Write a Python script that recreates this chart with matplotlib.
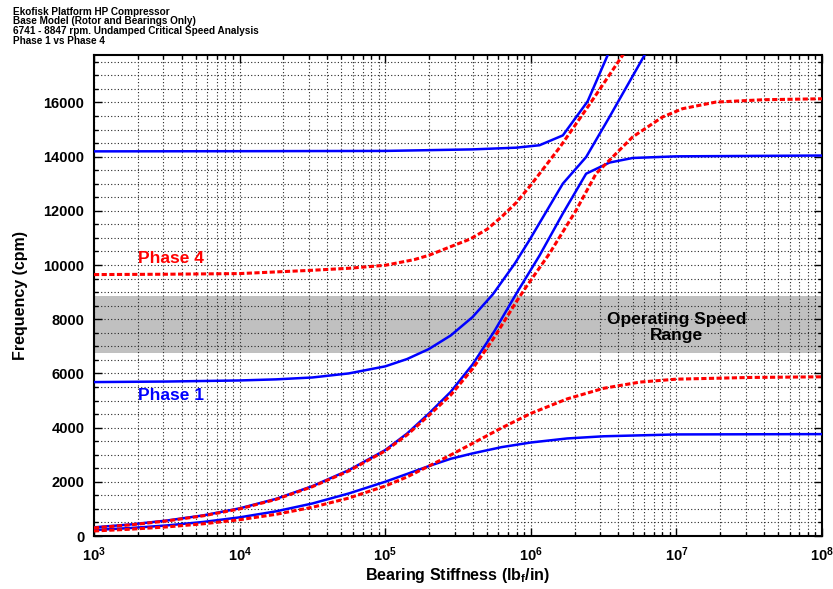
import numpy as np
import matplotlib
matplotlib.use('Agg')
import matplotlib.pyplot as plt
from matplotlib import ticker as mticker

plt.rcParams['font.family'] = ['Liberation Sans', 'DejaVu Sans']
plt.rcParams['font.weight'] = 'bold'
plt.rcParams['mathtext.fontset'] = 'custom'
plt.rcParams['mathtext.rm'] = 'Liberation Sans:bold'
plt.rcParams['mathtext.bf'] = 'Liberation Sans:bold'
plt.rcParams['mathtext.it'] = 'Liberation Sans:bold'
plt.rcParams['mathtext.default'] = 'rm'

# title block
title_lines = ['Ekofisk Platform HP Compressor',
               'Base Model (Rotor and Bearings Only)',
               '6741 - 8847 rpm. Undamped Critical Speed Analysis',
               'Phase 1 vs Phase 4']

# operating speed range (rpm)
op_low = 6741
op_high = 8847

# Phase 1 modes (blue solid): log10 of bearing stiffness (lbf/in) and frequency (cpm)
p1_m1_logk = [3.0, 3.25, 3.5, 3.75, 4.0, 4.25, 4.5, 4.75, 5.0, 5.15, 5.3, 5.45, 5.6, 5.8, 6.0, 6.25, 6.5, 7.0, 8.0]
p1_m1_f = [221, 294, 390, 518, 688, 910, 1200, 1570, 2002, 2290, 2581, 2850, 3048, 3280, 3450, 3600, 3680, 3748, 3760]

p1_m2_logk = [3.0, 3.25, 3.5, 3.75, 4.0, 4.25, 4.5, 4.75, 5.0, 5.15, 5.3, 5.45, 5.6, 5.75, 5.9, 6.06, 6.22, 6.38, 6.54, 6.70, 7.0, 8.0]
p1_m2_f = [320, 425, 570, 760, 1020, 1370, 1840, 2430, 3170, 3780, 4520, 5320, 6330, 7560, 8940, 10350, 11900, 13370, 13780, 13950, 14010, 14040]

p1_m3_logk = [3.0, 3.5, 4.0, 4.25, 4.5, 4.75, 5.0, 5.15, 5.3, 5.45, 5.6, 5.74, 5.89, 5.99, 6.06, 6.22, 6.38, 6.54, 6.78, 6.85]
p1_m3_f = [5680, 5700, 5740, 5780, 5850, 6000, 6260, 6530, 6900, 7400, 8080, 8922, 10053, 10912, 11550, 13003, 13984, 15460, 17733, 18400]

p1_m4_logk = [3.0, 4.0, 5.0, 5.6, 5.9, 6.06, 6.22, 6.39, 6.527, 6.6]
p1_m4_f = [14194, 14200, 14210, 14267, 14330, 14420, 14783, 16037, 17733, 18650]

# Phase 4 modes (red dashed)
p4_m1_logk = [3.0, 3.25, 3.5, 3.75, 4.0, 4.25, 4.5, 4.75, 5.0, 5.15, 5.3, 5.45, 5.6, 5.8, 6.0, 6.25, 6.5, 6.75, 7.0, 7.5, 8.0]
p4_m1_f = [185, 250, 335, 450, 600, 800, 1060, 1400, 1843, 2180, 2581, 2990, 3417, 3990, 4523, 5060, 5450, 5680, 5788, 5850, 5874]

p4_m2_logk = [3.0, 3.25, 3.5, 3.75, 4.0, 4.25, 4.5, 4.75, 5.0, 5.15, 5.3, 5.45, 5.6, 5.75, 5.9, 5.968, 6.128, 6.311, 6.448, 6.539, 6.699, 6.904, 7.041, 7.27, 7.6, 8.0]
p4_m2_f = [300, 410, 555, 745, 1000, 1350, 1820, 2400, 3140, 3730, 4450, 5200, 6170, 7340, 8640, 9192, 10421, 12018, 13370, 13862, 14724, 15460, 15767, 16012, 16100, 16135]

p4_m3_logk = [3.0, 3.5, 4.0, 4.5, 4.75, 5.0, 5.2, 5.3, 5.46, 5.58, 5.7, 5.8, 5.9, 6.0, 6.2, 6.4, 6.63, 6.7]
p4_m3_f = [9647, 9660, 9684, 9806, 9880, 9990, 10200, 10359, 10700, 10950, 11320, 11780, 12300, 12950, 14350, 15900, 17733, 18260]

xtick_vals = [1e3, 1e4, 1e5, 1e6, 1e7, 1e8]
xtick_labels = [r'$10^{3}$', r'$10^{4}$', r'$10^{5}$', r'$10^{6}$', r'$10^{7}$', r'$10^{8}$']

fig = plt.figure(figsize=(8.33, 5.89), dpi=100)
ax = fig.add_axes([94 / 833, 53 / 589, 728 / 833, 481 / 589])

ax.axhspan(op_low, op_high, color='#c0c0c0', lw=0, zorder=1)

blue = '#0000ff'
red = '#ff0000'
for lk, f in [(p1_m1_logk, p1_m1_f), (p1_m2_logk, p1_m2_f), (p1_m3_logk, p1_m3_f), (p1_m4_logk, p1_m4_f)]:
	ax.plot(10 ** np.asarray(lk), f, color=blue, lw=1.8, zorder=3)
for lk, f in [(p4_m1_logk, p4_m1_f), (p4_m2_logk, p4_m2_f), (p4_m3_logk, p4_m3_f)]:
	ax.plot(10 ** np.asarray(lk), f, color=red, lw=2.2, linestyle=(0, (1.7, 0.8)), zorder=4)

ax.set_xscale('log')
ax.set_xlim(1e3, 1e8)
ax.set_ylim(0, 17750)

ax.xaxis.set_major_locator(mticker.FixedLocator(xtick_vals))
ax.xaxis.set_major_formatter(mticker.FixedFormatter(xtick_labels))
ax.xaxis.set_minor_locator(mticker.LogLocator(base=10, subs=np.arange(2, 10), numticks=20))
ax.xaxis.set_minor_formatter(mticker.NullFormatter())
ax.yaxis.set_major_locator(mticker.MultipleLocator(2000))
ax.yaxis.set_minor_locator(mticker.MultipleLocator(500))

ax.tick_params(which='both', direction='in', top=True, right=True, width=1)
ax.tick_params(which='major', length=6, labelsize=10.5)
ax.tick_params(which='minor', length=3)
ax.tick_params(axis='y', pad=7)
ax.tick_params(axis='x', pad=7)

ax.grid(True, which='both', color='0.15', linestyle=(0, (1, 2)), lw=0.8)
for sp in ax.spines.values():
	sp.set_linewidth(1.5)

ax.set_xlabel(r'Bearing Stiffness (lb$_f$/in)', fontsize=11.5, fontweight='bold')
ax.set_ylabel('Frequency (cpm)', fontsize=11.5, fontweight='bold')
ax.xaxis.set_label_coords(0.5, -0.062)
ax.yaxis.set_label_coords(-0.091, 0.5)

ax.text(2e3, 10250, 'Phase 4', color=red, fontsize=12.5, fontweight='bold', va='center', ha='left')
ax.text(2e3, 5200, 'Phase 1', color=blue, fontsize=12.5, fontweight='bold', va='center', ha='left')
ax.text(1e7, 7680, 'Operating Speed\nRange', color='black', fontsize=12.5, fontweight='bold',
	va='center', ha='center', linespacing=1.1)

title_y = [11.7, 21.5, 31.0, 40.6]
for line, yy in zip(title_lines, title_y):
	fig.text(13 / 833, 1 - yy / 589, line, fontsize=7.2, fontweight='bold', va='center', ha='left')

fig.savefig('out.png', dpi=100)
